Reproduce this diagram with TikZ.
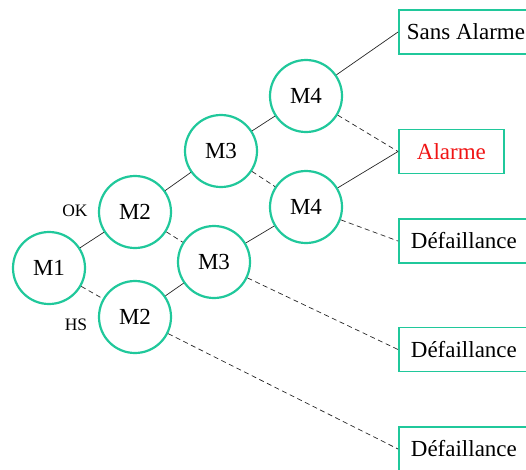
\documentclass[tikz,border=0pt]{standalone}
\usepackage{fontspec}
\setmainfont{Liberation Serif}
\definecolor{teal1}{RGB}{32,200,155}
\definecolor{alarmred}{RGB}{240,20,20}
\begin{document}
\begin{tikzpicture}[x=1pt,y=-1pt,
  mnode/.style={circle,draw=teal1,line width=2.2pt,minimum size=72pt,inner sep=0pt,font=\fontsize{23}{26}\selectfont},
  obox/.style={rectangle,draw=teal1,line width=1.8pt,minimum height=44pt,inner xsep=8pt,anchor=west,font=\fontsize{23}{26}\selectfont},
  lab/.style={font=\fontsize{17.5}{20}\selectfont,inner sep=0pt},
  ok/.style={draw=black!85,line width=0.7pt},
  ko/.style={draw=black!85,line width=0.7pt,dash pattern=on 5pt off 3.5pt}]
\useasboundingbox (0,0) rectangle (526,469);
\begin{scope}
\clip (0,0) rectangle (526,469);
\node[mnode] (m1) at (49,268) {M1};
\node[mnode] (m2a) at (135,212) {M2};
\node[mnode] (m2b) at (135,317) {M2};
\node[mnode] (m3a) at (221,151) {M3};
\node[mnode] (m3b) at (214,262) {M3};
\node[mnode] (m4a) at (306,96) {M4};
\node[mnode] (m4b) at (306,207) {M4};
\node[obox] (sa) at (398,32) {Sans Alarme};
\node[obox,minimum width=105pt,text=alarmred] (al) at (398,151.5) {Alarme};
\node[obox,inner xsep=12pt] (d1) at (398,241) {Défaillance};
\node[obox,inner xsep=12pt] (d2) at (398,349.5) {Défaillance};
\node[obox,inner xsep=12pt] (d3) at (398,449) {Défaillance};
\node[lab] (okl) at (75,211) {OK};
\node[lab] (hsl) at (76,325) {HS};
\draw[ok] (m1) -- (m2a);
\draw[ko] (m1) -- (m2b);
\draw[ok] (m2a) -- (m3a);
\draw[ko] (m2a) -- (m3b);
\draw[ok] (m2b) -- (m3b);
\draw[ko] (m2b) -- (d3.west);
\draw[ok] (m3a) -- (m4a);
\draw[ko] (m3a) -- (m4b);
\draw[ok] (m3b) -- (m4b);
\draw[ko] (m3b) -- (d2.west);
\draw[ok] (m4a) -- (sa.west);
\draw[ko] (m4a) -- (al.west);
\draw[ok] (m4b) -- (al.west);
\draw[ko] (m4b) -- (d1.west);
\end{scope}
\end{tikzpicture}
\end{document}
